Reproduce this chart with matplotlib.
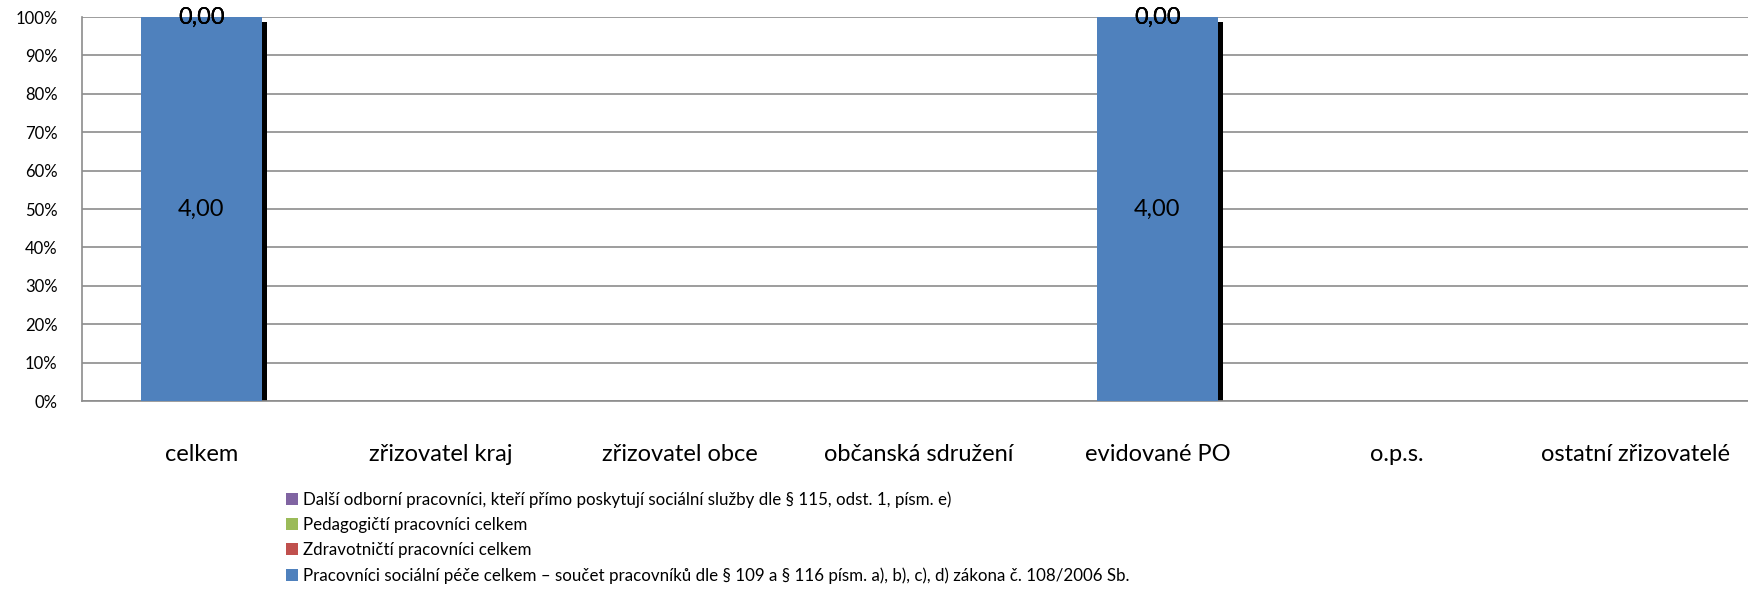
import matplotlib
matplotlib.use("Agg")
import matplotlib.pyplot as plt
import numpy as np

categories = ["celkem", "zřizovatel kraj", "zřizovatel obce", "občanská sdružení",
              "evidované PO", "o.p.s.", "ostatní zřizovatelé"]
series_names = [
    "Pracovníci sociální péče celkem – součet pracovníků dle § 109 a § 116 písm. a), b), c), d) zákona č. 108/2006 Sb.",
    "Zdravotničtí pracovníci celkem",
    "Pedagogičtí pracovníci celkem",
    "Další odborní pracovníci, kteří přímo poskytují sociální služby dle § 115, odst. 1, písm. e)",
]
socialni = [4.0, 0, 0, 0, 4.0, 0, 0]
zdravotnicti = [0.0, 0, 0, 0, 0.0, 0, 0]
pedagogicti = [0.0, 0, 0, 0, 0.0, 0, 0]
dalsi = [0.0, 0, 0, 0, 0.0, 0, 0]
colors = ["#4F81BD", "#C0504D", "#9BBB59", "#8064A2"]
yticks = [0, 10, 20, 30, 40, 50, 60, 70, 80, 90, 100]

plt.rcParams['font.family'] = ['Lato', 'DejaVu Sans']

fig = plt.figure(figsize=(17.48, 5.93), dpi=100)
ax = fig.add_axes([82/1748, 1-401/593, 1666/1748, 384/593])

data = np.array([socialni, zdravotnicti, pedagogicti, dalsi])
totals = data.sum(axis=0)
x = np.arange(len(categories))
width = 0.51
bottom = np.zeros(len(categories))
handles = []
for i, (name, col) in enumerate(zip(series_names, colors)):
    vals = data[i]
    pct = np.where(totals > 0, vals / np.where(totals > 0, totals, 1) * 100, 0)
    h = ax.bar(x, pct, width, bottom=bottom, color=col, label=name, zorder=3)
    handles.append(h)
    for j in range(len(categories)):
        if totals[j] > 0:
            ax.text(x[j], bottom[j] + pct[j] / 2, f"{vals[j]:.2f}".replace(".", ","),
                    ha="center", va="center", fontsize=17, color="black", zorder=5)
    bottom += pct

# shadow line to the right of filled bars
for j in range(len(categories)):
    if totals[j] > 0:
        ax.bar(x[j] + width / 2 + 0.0085, 98.7, 0.017, color="black", zorder=2)

ax.set_xlim(-0.5, -0.5 + 1666 / 239)
ax.set_ylim(0, 100)
ax.set_yticks(yticks)
ax.set_yticklabels([f"{t}%" for t in yticks], fontsize=12)
ax.set_xticks(x)
ax.set_xticklabels(categories, fontsize=17)
ax.tick_params(axis="both", length=0)
ax.tick_params(axis="x", pad=31)
ax.tick_params(axis="y", pad=17.5)
ax.grid(axis="y", color="#8c8c8c", linewidth=1.2, zorder=0)
for s in ["top", "right"]:
    ax.spines[s].set_visible(False)
for s in ["left", "bottom"]:
    ax.spines[s].set_color("#8c8c8c")
    ax.spines[s].set_linewidth(1.2)

leg = fig.legend(handles[::-1], series_names[::-1], loc="upper left",
                 bbox_to_anchor=(286/1748, 1-491/593), frameon=False, fontsize=12.2,
                 handlelength=0.7, handleheight=0.7, handletextpad=0.3,
                 labelspacing=0.55, borderaxespad=0, borderpad=0)

fig.savefig("out.png", dpi=100)
